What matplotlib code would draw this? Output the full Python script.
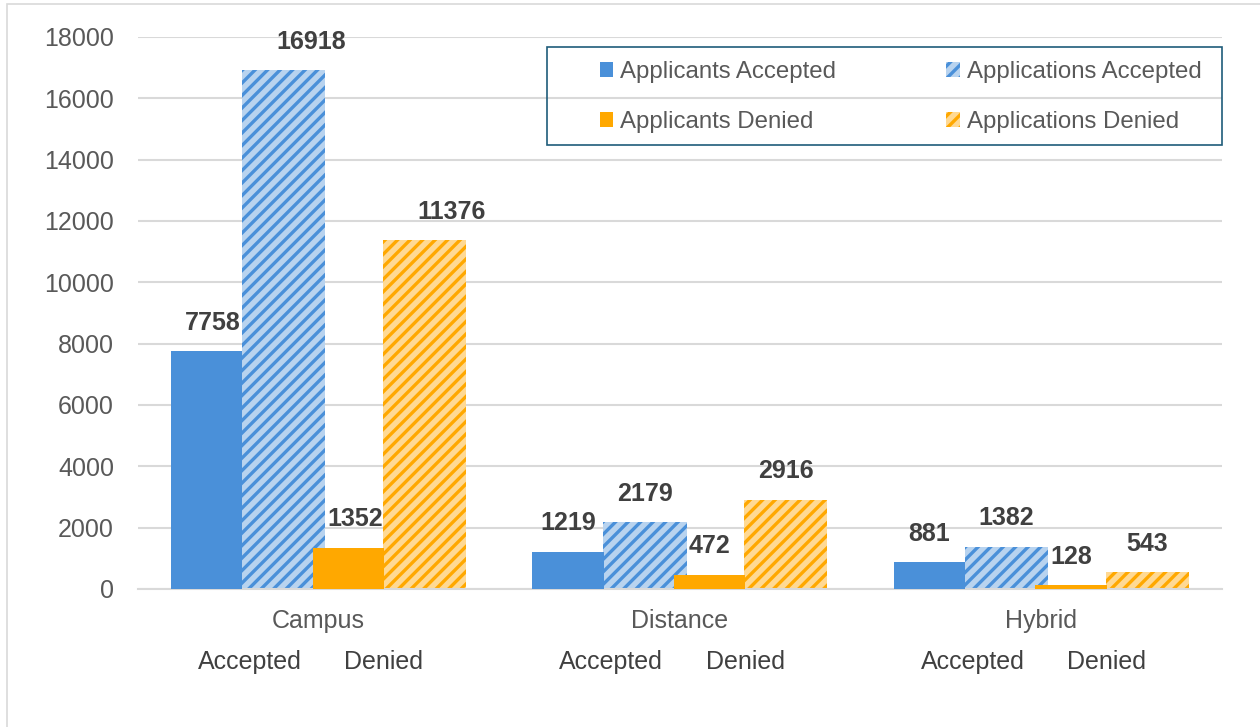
## grouped bar chart: applicants vs applications, accepted vs denied
import numpy as np
import matplotlib.pyplot as plt
from matplotlib.patches import Rectangle, Patch

plt.rcParams['font.family'] = ['Liberation Sans', 'DejaVu Sans']
plt.rcParams['hatch.linewidth'] = 1.6

## data
categories = ['Campus', 'Distance', 'Hybrid']
sub_labels = ['Accepted', 'Denied']
applicants_accepted = [7758, 1219, 881]
applications_accepted = [16918, 2179, 1382]
applicants_denied = [1352, 472, 128]
applications_denied = [11376, 2916, 543]
y_ticks = [0, 2000, 4000, 6000, 8000, 10000, 12000, 14000, 16000, 18000]

## colours
blue = '#4A90D9'
blue_light = '#B8D3EF'
orange = '#FFA800'
orange_light = '#FFD993'

fig = plt.figure(figsize=(8.4, 727 / 150), dpi=150)
ax = fig.add_axes([138 / 1260, 1 - 589 / 727, 1084 / 1260, 552 / 727])

x = np.arange(len(categories))
w_solid = 0.197
w_hatch = 0.23

## (values, offset, width, face, hatch colour, hatch, zorder)
series = [
    (applications_accepted, -0.097, w_hatch, blue_light, blue, '////', 2),
    (applications_denied, 0.293, w_hatch, orange_light, orange, '////', 2),
    (applicants_accepted, -0.31, w_solid, blue, blue, None, 3),
    (applicants_denied, 0.082, w_solid, orange, orange, None, 3),
]
label_dx = {0: [0.075, 0, 0], 1: [0.075, 0, 0], 2: [0.018, 0, 0], 3: [0.018, 0, 0]}

for i, (vals, off, w, face, edge, hatch, z) in enumerate(series):
    bars = ax.bar(x + off, vals, width=w, color=face, edgecolor=edge,
                  hatch=hatch, linewidth=0, zorder=z)
    for j, (b, v) in enumerate(zip(bars, vals)):
        ax.annotate(str(v), (b.get_x() + b.get_width() / 2 + label_dx[i][j], v),
                    xytext=(0, 13.5), textcoords='offset points',
                    ha='center', va='center', fontsize=12, fontweight='bold',
                    color='#404040', zorder=5, annotation_clip=False)

ax.set_xlim(-0.5, 2.5)
ax.set_ylim(0, 18000)
ax.set_yticks(y_ticks)
ax.set_yticklabels([str(t) for t in y_ticks])
ax.tick_params(axis='y', length=0, pad=11.5, labelsize=12, labelcolor='#595959')
ax.set_xticks([])
ax.yaxis.grid(True, color='#D9D9D9', linewidth=1.0, zorder=0)
ax.set_axisbelow(True)
for s in ['left', 'right', 'top']:
    ax.spines[s].set_visible(False)
ax.spines['bottom'].set_color('#D9D9D9')
ax.spines['bottom'].set_linewidth(1.0)

## two-level category labels
trans = ax.get_xaxis_transform()
for i, c in enumerate(categories):
    ax.annotate(c, (x[i], 0), xycoords=trans, xytext=(0, -15.5), textcoords='offset points',
                ha='center', va='center', fontsize=12, color='#595959')
    ax.annotate(sub_labels[0], (x[i] - 0.19, 0), xycoords=trans, xytext=(0, -35.2),
                textcoords='offset points', ha='center', va='center', fontsize=12, color='#404040')
    ax.annotate(sub_labels[1], (x[i] + 0.18, 0), xycoords=trans, xytext=(0, -35.2),
                textcoords='offset points', ha='center', va='center', fontsize=12, color='#404040')

## legend
handles = [
    Patch(facecolor=blue, edgecolor=blue, linewidth=0, label='Applicants Accepted'),
    Patch(facecolor=orange, edgecolor=orange, linewidth=0, label='Applicants Denied'),
    Patch(facecolor=blue_light, edgecolor=blue, hatch='////', linewidth=0, label='Applications Accepted'),
    Patch(facecolor=orange_light, edgecolor=orange, hatch='////', linewidth=0, label='Applications Denied'),
]
leg = ax.legend(handles=handles, ncol=2, loc='upper left', bbox_to_anchor=(0.415, 0.978),
                frameon=False, fontsize=11.5, handlelength=0.55, handleheight=0.55,
                handletextpad=0.3, columnspacing=4.6, labelspacing=1.16, borderpad=0,
                labelcolor='#595959')
ax.add_patch(Rectangle((0.377, 0.804), 0.623, 0.178, transform=ax.transAxes,
                       fill=False, edgecolor='#1F5C7A', linewidth=0.8, clip_on=False, zorder=6))

## light outer border of the chart area
fig.add_artist(Rectangle((7 / 1260, -0.05), 1.0, 1.05 - 4 / 727, transform=fig.transFigure,
                         fill=False, edgecolor='#D9D9D9', linewidth=0.8))

fig.savefig('out.png', dpi=150)
